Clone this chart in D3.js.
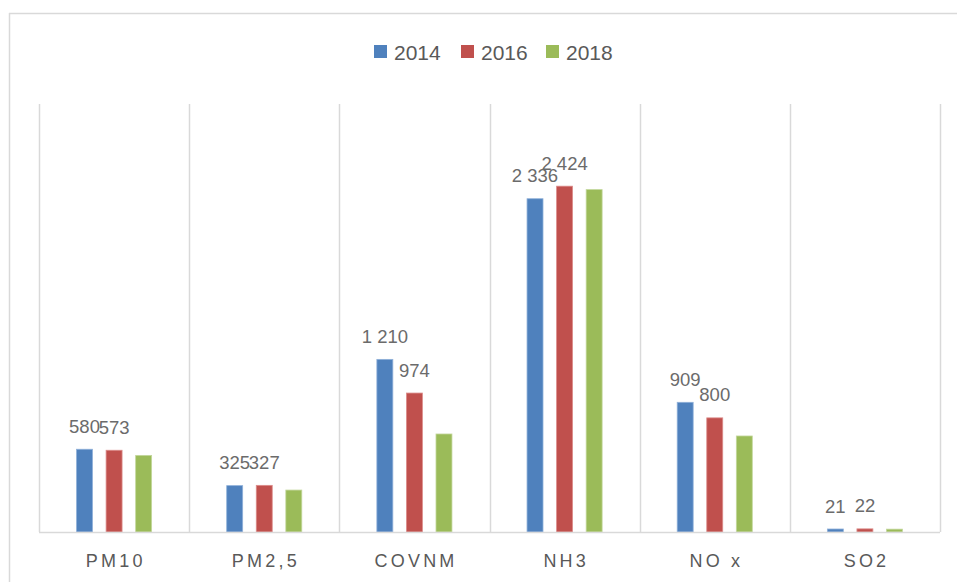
<!DOCTYPE html>
<html>
<head>
<meta charset="utf-8">
<script src="https://cdn.jsdelivr.net/npm/d3@7"></script>
<style>
  html, body { margin: 0; padding: 0; background: #fff; }
  svg { display: block; }
  text { font-family: "Liberation Sans", Arial, sans-serif; }
</style>
</head>
<body>
<svg id="chart" width="957" height="582"></svg>
<script>
const categories = ["PM10", "PM2,5", "COVNM", "NH3", "NO x", "SO2"];
const years = ["2014", "2016", "2018"];
const values2014 = [580, 325, 1210, 2336, 909, 21];
const values2016 = [573, 327, 974, 2424, 800, 22];
const values2018 = [537, 294, 687, 2400, 673, 20];
const labelledYears = ["2014", "2016"];
const colors = ["#4f81bd", "#c0504d", "#9bbb59"];
const strokes = ["#8fb0d9", "#dc8c8a", "#c3d79c"];

const seriesValues = { "2014": values2014, "2016": values2016, "2018": values2018 };

const svg = d3.select("#chart");
const W = 957, H = 582;
const plot = { left: 39, right: 940, top: 104, bottom: 532 };

// outer frame (partial, as in the reference)
svg.append("line").attr("x1", 9.5).attr("x2", 9.5).attr("y1", 13).attr("y2", H)
  .attr("stroke", "#d9d9d9").attr("stroke-width", 1.5);
svg.append("line").attr("x1", 9).attr("x2", 957).attr("y1", 13.5).attr("y2", 13.5)
  .attr("stroke", "#d9d9d9").attr("stroke-width", 1.5);

const x = d3.scaleBand().domain(categories).range([plot.left, plot.right]).paddingInner(0).paddingOuter(0);
const xs = d3.scaleBand().domain(years).range([0, x.bandwidth()]).paddingInner(0.46).paddingOuter(1.27);
const y = d3.scaleLinear().domain([0, 3000]).range([plot.bottom, plot.top]);

// vertical gridlines at category boundaries
const bounds = categories.map(c => x(c)).concat([plot.right]);
svg.append("g").selectAll("line").data(bounds).join("line")
  .attr("x1", d => Math.round(d) + 0.5).attr("x2", d => Math.round(d) + 0.5)
  .attr("y1", plot.top).attr("y2", plot.bottom)
  .attr("stroke", "#d9d9d9").attr("stroke-width", 1.5);

// bars
const data = [];
categories.forEach((c, i) => {
  years.forEach((yr, j) => {
    data.push({ cat: c, year: yr, value: seriesValues[yr][i], j });
  });
});

svg.append("g").selectAll("rect").data(data).join("rect")
  .attr("x", d => x(d.cat) + xs(d.year))
  .attr("width", xs.bandwidth())
  .attr("y", d => y(d.value))
  .attr("height", d => y(0) - y(d.value))
  .attr("fill", d => colors[d.j])
  .attr("stroke", d => strokes[d.j])
  .attr("stroke-width", 0.8);

// baseline
svg.append("line").attr("x1", plot.left).attr("x2", plot.right)
  .attr("y1", plot.bottom + 0.5).attr("y2", plot.bottom + 0.5)
  .attr("stroke", "#d9d9d9").attr("stroke-width", 1.5);

// x axis labels
const xAxis = d3.axisBottom(x).tickSize(0).tickPadding(0);
const gx = svg.append("g").attr("transform", `translate(0,${plot.bottom})`).call(xAxis);
gx.select(".domain").remove();
gx.selectAll("text")
  .attr("y", 35).attr("dy", 0)
  .attr("fill", "#595959")
  .style("font-size", "18px")
  .style("letter-spacing", "3.2px")
  .attr("dx", "1.6px");

// data labels
const fmt = v => d3.format(",")(v).replace(/,/g, " ");
svg.append("g").selectAll("text").data(data.filter(d => labelledYears.includes(d.year))).join("text")
  .attr("x", d => x(d.cat) + xs(d.year) + xs.bandwidth() / 2)
  .attr("y", d => y(d.value) - 16.5)
  .attr("text-anchor", "middle")
  .attr("fill", "#6b6b6b")
  .style("font-size", "18.5px")
  .text(d => fmt(d.value));

// legend
const legendX = [374, 461, 546];
const lg = svg.append("g").selectAll("g").data(years).join("g")
  .attr("transform", (d, i) => `translate(${legendX[i]},45)`);
lg.append("rect").attr("width", 13).attr("height", 13).attr("fill", (d, i) => colors[i]);
lg.append("text").attr("x", 20).attr("y", 14.5)
  .attr("fill", "#595959").style("font-size", "21px").text(d => d);
</script>
</body>
</html>
